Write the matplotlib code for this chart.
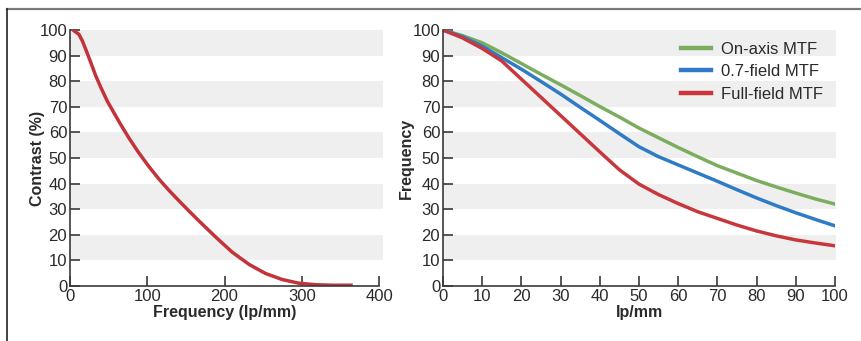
import matplotlib
matplotlib.use("Agg")
import matplotlib.pyplot as plt
from matplotlib.lines import Line2D

plt.rcParams['font.family'] = ['Liberation Sans', 'DejaVu Sans']

# left chart: single MTF curve
freq_left = [4, 5.2, 11.6, 15.9, 20.3, 26.8, 33.2, 39.7, 48.3, 57, 65.6, 76.3, 88,
             101, 115, 128, 141, 154, 167, 189, 210, 232, 253, 275, 296, 318, 340, 366]
contrast_left = [100, 99.7, 98.3, 95.8, 92.5, 87.4, 82.2, 77.7, 72.2, 67.6, 63.1,
                 57.8, 52.5, 47.1, 41.8, 37.4, 33.3, 29.3, 25.4, 19, 13.2, 8.4, 4.9,
                 2.5, 1.1, 0.5, 0.3, 0.3]

# right chart: three field positions
lpmm = [0, 5, 10, 15, 20, 25, 30, 35, 40, 45, 50, 55, 60, 65, 70, 75, 80, 85, 90, 95, 100]
on_axis = [100, 97.8, 95, 91.1, 86.9, 82.7, 78.6, 74.4, 70.1, 66, 61.7, 57.9, 54.1,
           50.5, 47, 44.1, 41.2, 38.7, 36.3, 34, 32]
field_07 = [100, 97.4, 93.7, 89.2, 84.7, 79.9, 75, 69.8, 64.7, 59.5, 54.4, 50.5, 47.3,
            44.1, 40.9, 37.6, 34.4, 31.4, 28.6, 26, 23.5]
full_field = [100, 96.9, 92.8, 87.9, 80.8, 73.7, 66.6, 59.5, 52.4, 45.4, 39.8, 35.7,
              32.2, 29, 26.4, 23.8, 21.5, 19.6, 18, 16.8, 15.7]

txt = '#2a2a2a'
spine_c = '#3a3a3a'

fig = plt.figure(figsize=(8.62, 3.41), dpi=100)
ax1 = fig.add_axes([0.0812, 0.1613, 0.3585, 0.7507])
ax2 = fig.add_axes([0.5139, 0.1613, 0.4548, 0.7507])

def style(ax, xmax, band_ext):
    for lo in (10, 30, 50, 70, 90):
        ax.axhspan(lo, lo + 10, xmin=0, xmax=band_ext, color='#efefef', lw=0,
                   zorder=0, clip_on=False)
    ax.set_ylim(0, 100)
    ax.set_xlim(0, xmax)
    ax.set_yticks(range(0, 101, 10))
    for s in ('top', 'right'):
        ax.spines[s].set_visible(False)
    for s in ('left', 'bottom'):
        ax.spines[s].set_color(spine_c)
        ax.spines[s].set_linewidth(1.2)
    ax.tick_params(direction='in', length=7, width=1.2, color=spine_c,
                   labelsize=12, labelcolor=txt, pad=2)

style(ax1, 400, 1.013)
ax1.set_xticks([0, 100, 200, 300, 400])
ax1.plot(freq_left, contrast_left, color='#c2343a', lw=2.5, solid_capstyle='butt')
ax1.set_xlabel('Frequency (lp/mm)', fontsize=11.5, fontweight='bold', color=txt, labelpad=1)
ax1.set_ylabel('Contrast (%)', fontsize=11.5, fontweight='bold', color=txt, labelpad=-4)

style(ax2, 100, 1.003)
ax2.set_xticks(range(0, 101, 10))
ax2.plot(lpmm, on_axis, color='#7bad5e', lw=2.5, label='On-axis MTF')
ax2.plot(lpmm, field_07, color='#2f7bc5', lw=2.5, label='0.7-field MTF')
ax2.plot(lpmm, full_field, color='#c8373c', lw=2.5, label='Full-field MTF')
ax2.set_xlabel('lp/mm', fontsize=11.5, fontweight='bold', color=txt, labelpad=1)
ax2.set_ylabel('Frequency', fontsize=11.5, fontweight='bold', color=txt, labelpad=-1)
leg = ax2.legend(loc='upper right', frameon=False, fontsize=12, handlelength=1.8,
                 handletextpad=0.6, labelspacing=0.45, borderaxespad=0.3)
for t in leg.get_texts():
    t.set_color(txt)
for h in leg.get_lines():
    h.set_linewidth(3.2)

# outer frame: top rule and left rule
fig.add_artist(Line2D([7 / 862, 1], [1 - 9 / 341, 1 - 9 / 341], color='#7a7a7a', lw=1.6))
fig.add_artist(Line2D([7 / 862, 7 / 862], [0, 1 - 9 / 341], color='#222222', lw=1.2))

fig.savefig('out.png', dpi=100)
